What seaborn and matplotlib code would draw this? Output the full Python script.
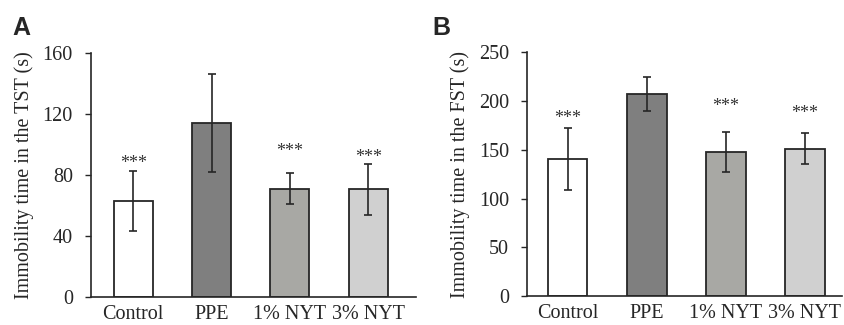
import pandas as pd
import matplotlib
matplotlib.use("Agg")
import matplotlib.pyplot as plt
import seaborn as sns

# Données
groups = ["Control", "PPE", "1% NYT", "3% NYT"]
tst_mean = [63, 114, 71, 70.5]
tst_err = [19.5, 32, 10.3, 17]
fst_mean = [140.5, 207.5, 148, 151]
fst_err = [32, 17.5, 20.3, 15.8]
signif = ["***", "", "***", "***"]
bar_colors = ["#ffffff", "#7f7f7f", "#a9a9a3", "#d0d0d0"]

sns.set_style("ticks")
plt.rcParams["font.family"] = ["Liberation Serif", "DejaVu Serif"]


def draw_panel(ax, means, errs, ylabel, ymax, step, xlim, star_off):
    df = pd.DataFrame({"group": groups, "value": means})
    sns.barplot(data=df, x="group", y="value", hue="group", palette=bar_colors,
                legend=False, width=0.5, edgecolor="#262626", linewidth=1.3,
                ax=ax)
    ax.errorbar(range(len(groups)), means, yerr=errs, fmt="none",
                ecolor="#262626", elinewidth=1.2, capsize=3, capthick=1.2)
    for i, s in enumerate(signif):
        if s:
            ax.annotate(s, (i, means[i] + errs[i]), xytext=(0, star_off[i]),
                        textcoords="offset points", ha="center", va="bottom",
                        fontsize=13, color="#333333")
    ax.set_ylim(0, ymax)
    ax.set_yticks(range(0, ymax + 1, step))
    ax.set_xlim(*xlim)
    ax.set_xlabel("")
    ax.set_ylabel(ylabel, fontsize=14.5, labelpad=6)
    ax.tick_params(axis="y", labelsize=14.5, length=4, width=1, color="#262626", pad=9)
    ax.tick_params(axis="x", labelsize=14.5, length=0, pad=6)
    for sp in ["top", "right"]:
        ax.spines[sp].set_visible(False)
    for sp in ["left", "bottom"]:
        ax.spines[sp].set_color("#262626")
        ax.spines[sp].set_linewidth(1.2)


fig = plt.figure(figsize=(8.44, 3.25), dpi=100)
ax1 = fig.add_axes([0.1078, 0.0862, 0.3851, 0.7508])
ax2 = fig.add_axes([0.6244, 0.0892, 0.3732, 0.7498])

draw_panel(ax1, tst_mean, tst_err, "Immobility time in the TST (s)", 160, 40,
           (-0.54, 3.61), [-0.5, 0, 9.5, -1.5])
draw_panel(ax2, fst_mean, fst_err, "Immobility time in the FST (s)", 250, 50,
           (-0.515, 3.47), [0.5, 0, 12, 8.5])

fig.text(0.015, 0.915, "A", fontsize=18, fontweight="bold",
         family="Liberation Sans", va="center")
fig.text(0.512, 0.915, "B", fontsize=18, fontweight="bold",
         family="Liberation Sans", va="center")

fig.savefig("out.png", dpi=100)
